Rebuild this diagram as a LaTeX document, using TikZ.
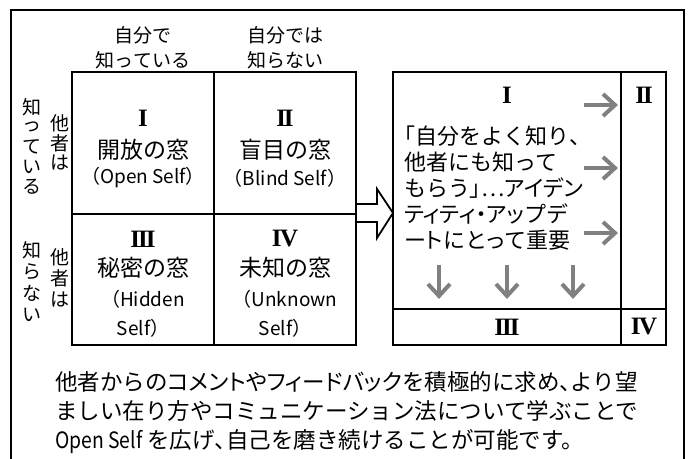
\documentclass[tikz,border=0pt]{standalone}
\usepackage{fontspec}
\setmainfont{Noto Sans CJK JP}
\newfontfamily\propf[RawFeature=+palt]{Noto Sans CJK JP}
\newfontfamily\romanf{Liberation Serif}
\newcommand\rnum[1]{{\romanf\bfseries #1}}
\newcommand\myellip{{\propf ⋯}}
\newcommand\pp[1]{{\propf #1}}
\begin{document}
\begin{tikzpicture}[x=1pt,y=-1pt,
  frame/.style={line width=1.8pt},
  hd/.style={inner sep=0pt, font=\fontsize{19}{22}\selectfont},
  big/.style={inner sep=0pt, font=\fontsize{23}{26}\selectfont},
  sub/.style={inner sep=0pt, font=\fontsize{19}{22}\selectfont},
  num/.style={inner sep=0pt, font=\fontsize{25}{28}\selectfont},
  vch/.style={inner sep=0pt, font=\fontsize{19}{22}\selectfont},
  rt/.style={inner sep=0pt, anchor=west, align=left, font=\fontsize{22}{25.8}\selectfont},
  bt/.style={inner sep=0pt, anchor=west, align=left, font=\fontsize{22.5}{29}\selectfont},
  garrow/.style={draw={rgb,255:red,128;green,128;blue,128}, line width=4pt},
]
\useasboundingbox (0,0) rectangle (691,458);
\clip (0,0) rectangle (691,458);
% outer frame
\draw[frame] (11,10) rectangle (684,470);
% left grid
\draw[frame] (72,72) rectangle (356,345);
\draw[frame] (214,72) -- (214,345);
\draw[frame] (72,214) -- (356,214);
% headers
\node[hd] (h1a) at (143,35) {自分で};
\node[hd] (h1b) at (143,60) {知っている};
\node[hd] (h2a) at (285,35) {自分では};
\node[hd] (h2b) at (285,60) {知らない};
% vertical labels top
\foreach \c/\y [count=\i] in {知/107,っ/127,て/147,い/167,る/187}
  \node[vch] (va\i) at (32,\y) {\c};
\foreach \c/\y [count=\i] in {他/123,者/143,は/163}
  \node[vch] (vb\i) at (60,\y) {\c};
% vertical labels bottom
\foreach \c/\y [count=\i] in {知/250,ら/272,な/293,い/315}
  \node[vch] (vc\i) at (32,\y) {\c};
\foreach \c/\y [count=\i] in {他/257,者/278,は/300}
  \node[vch] (vd\i) at (60,\y) {\c};
% quadrant I
\node[num] (n1) at (143,118) {\rnum{I}};
\node[big] (q1) at (143,150) {開放の窓};
\node[sub] (q1s) at (143,178) {（Open Self）};
% quadrant II
\node[num] (n2) at (285,118) {\rnum{I\kern-2pt I}};
\node[big] (q2) at (285,150) {盲目の窓};
\node[sub] (q2s) at (285,178) {（Blind Self）};
% quadrant III
\node[num] (n3) at (143,239) {\rnum{I\kern-2pt I\kern-2pt I}};
\node[big] (q3) at (143,268) {秘密の窓};
\node[sub] (q3s) at (143,299) {（Hidden};
\node[sub] (q3t) at (143,328) {Self）};
% quadrant IV
\node[num] (n4) at (285,239) {\rnum{I\kern-1.5pt V}};
\node[big] (q4) at (285,268) {未知の窓};
\node[sub] (q4s) at (285,299) {（Unknown};
\node[sub] (q4t) at (285,328) {Self）};
% block arrow
\draw[frame, fill=white, line join=miter] (357,204) -- (377,204) -- (377,189) -- (393,213) -- (377,238) -- (377,222) -- (357,222);
% right box
\draw[frame] (393,72) rectangle (666,345);
\draw[frame] (621,72) -- (621,345);
\draw[frame] (393,309) -- (666,309);
\node[num] (r1) at (507,95) {\rnum{I}};
\node[num] (r2) at (644,95) {\rnum{I\kern-2pt I}};
\node[num] (r3) at (507,327) {\rnum{I\kern-2pt I\kern-2pt I}};
\node[num] (r4) at (644,327) {\rnum{I\kern-1.5pt V}};
\node[rt] (txt) at (404,188) {\pp{「}自分をよく知り\pp{、}\\
他者にも知って\\
もらう\pp{」}\myellip\pp{アイデン}\\
\pp{ティティ・アッ}プデ\\
ー\pp{ト}にと\pp{っ}て重要};
% gray arrows right
\foreach \y in {105,168,233} {
  \draw[garrow] (584,\y) -- (614,\y);
  \draw[garrow, line join=miter] (603,\y-11) -- (615,\y) -- (603,\y+11);
}
% gray arrows down
\foreach \x in {439,507,573} {
  \draw[garrow] (\x,265) -- (\x,295);
  \draw[garrow, line join=miter] (\x-11,284) -- (\x,296) -- (\x+11,284);
}
% bottom text
\node[bt] (btxt) at (55,413) {他者からの\pp{コメントやフィードバック}を積極的に求め\pp{、}より望\\
ましい在り方やコミュニケーション法について学ぶことで\\
\scalebox{0.86}[1]{Open Self} を広げ\pp{、}自己を磨き続けることが可能です。};
\end{tikzpicture}
\end{document}
